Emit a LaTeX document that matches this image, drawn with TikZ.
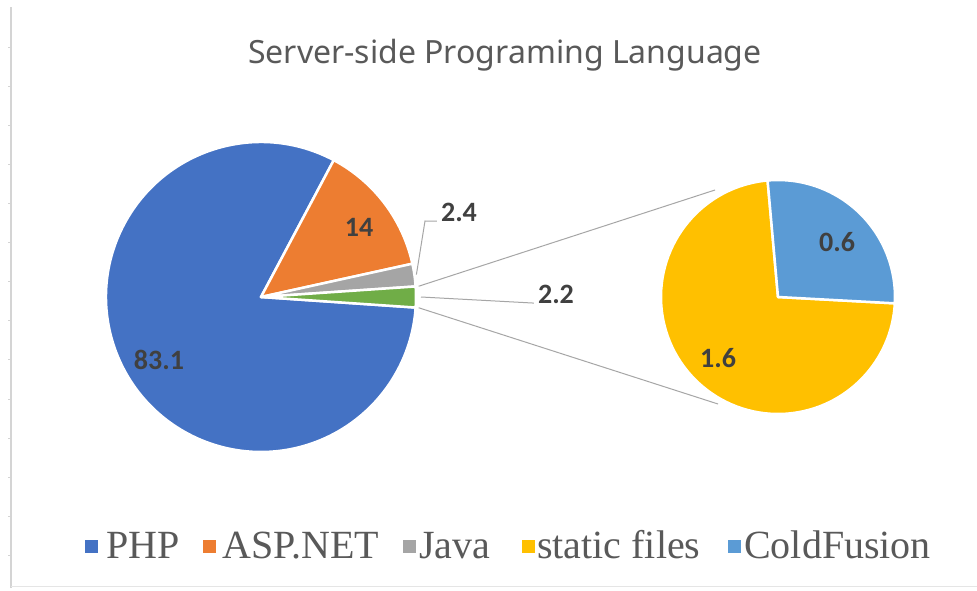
\documentclass[tikz,border=0pt]{standalone}
\usepackage{fontspec}
\usetikzlibrary{calc}
\newfontfamily\titlefont{Noto Sans}
\newfontfamily\labfont{Carlito}
\newfontfamily\legfont{Liberation Serif}
\definecolor{cphp}{HTML}{4472C4}
\definecolor{casp}{HTML}{ED7D31}
\definecolor{cjava}{HTML}{A5A5A5}
\definecolor{cother}{HTML}{70AD47}
\definecolor{cstatic}{HTML}{FFC000}
\definecolor{ccold}{HTML}{5B9BD5}
\definecolor{ctext}{HTML}{595959}
\definecolor{clab}{HTML}{404040}
\definecolor{caxis}{HTML}{D4D4D4}
\definecolor{cline}{HTML}{A6A6A6}
\tikzset{
  slice/.style={draw=white, line width=2.5pt, line join=round},
  datalab/.style={font=\labfont\bfseries\fontsize{28}{30}\selectfont, text=clab, inner sep=0pt},
  leader/.style={draw=cline, line width=1pt},
  legtext/.style={font=\legfont\fontsize{40}{44}\selectfont, text=ctext, inner sep=0pt, anchor=base west},
  legmark/.style={minimum size=13pt, inner sep=0pt, anchor=south west}
}
\begin{document}
\begin{tikzpicture}[x=1pt,y=1pt]
\useasboundingbox (0,0) rectangle (977,590);
\fill[white] (0,0) rectangle (977,590);
% left axis with ticks and faint bottom rule
\draw[caxis, line width=1.2pt] (11,2) -- (11,583);
\foreach \k in {1,...,14} \draw[caxis, line width=1pt] (8,{582-39.1*\k}) -- (11,{582-39.1*\k});
\draw[caxis!60, line width=1pt] (11,4) -- (977,4);
% title
\node[font=\titlefont\fontsize{32}{38}\selectfont, text=ctext, anchor=base, inner sep=0pt] (title) at (505,526) {Server-side Programing Language};
% main pie
\coordinate (C1) at (261,293);
\filldraw[slice, fill=cphp] (C1) -- ++(62:155) arc[start angle=62, end angle=356.1, radius=155] -- cycle;
\filldraw[slice, fill=casp] (C1) -- ++(12.4:155) arc[start angle=12.4, end angle=62, radius=155] -- cycle;
\filldraw[slice, fill=cjava] (C1) -- ++(3.9:155) arc[start angle=3.9, end angle=12.4, radius=155] -- cycle;
\filldraw[slice, fill=cother] (C1) -- ++(-3.9:155) arc[start angle=-3.9, end angle=3.9, radius=155] -- cycle;
% secondary pie
\coordinate (C2) at (778,293);
\filldraw[slice, fill=cstatic] (C2) -- ++(95.1:117) arc[start angle=95.1, end angle=356.9, radius=117] -- cycle;
\filldraw[slice, fill=ccold] (C2) -- ++(-3.1:117) arc[start angle=-3.1, end angle=95.1, radius=117] -- cycle;
% connectors between pies
\coordinate (up1) at ($(C1)+(3.9:158)$);
\coordinate (lo1) at ($(C1)+(-3.9:158)$);
\coordinate (up2) at (715,400);
\coordinate (lo2) at (718,186);
\draw[leader] (up1) -- (up2);
\draw[leader] (lo1) -- (lo2);
% data labels
\node[datalab] (l831) at (159,230) {83.1};
\node[datalab] (l14) at (359,363) {14};
\node[datalab] (l24) at (459,378) {2.4};
\node[datalab] (l22) at (556,296) {2.2};
\node[datalab] (l06) at (837,348) {0.6};
\node[datalab] (l16) at (718,232) {1.6};
% leader lines
\coordinate (java) at ($(C1)+(8.2:157)$);
\coordinate (k24) at (425,369);
\coordinate (oth) at ($(C1)+(0:160)$);
\draw[leader] ([xshift=-4pt]l24.base west) -- (k24) -- (java);
\draw[leader] (oth) -- ([xshift=-4pt]l22.base west);
% legend
\node[legmark, fill=cphp] (m1) at (85,37) {};
\node[legtext] (t1) at (106,32) {PHP};
\node[legmark, fill=casp] (m2) at (203,37) {};
\node[legtext] (t2) at (222,32) {ASP.NET};
\node[legmark, fill=cjava] (m3) at (403,37) {};
\node[legtext] (t3) at (419,32) {Java};
\node[legmark, fill=cstatic] (m4) at (522,37) {};
\node[legtext] (t4) at (537,32) {static files};
\node[legmark, fill=ccold] (m5) at (728,37) {};
\node[legtext] (t5) at (744,32) {ColdFusion};
\end{tikzpicture}
\end{document}
